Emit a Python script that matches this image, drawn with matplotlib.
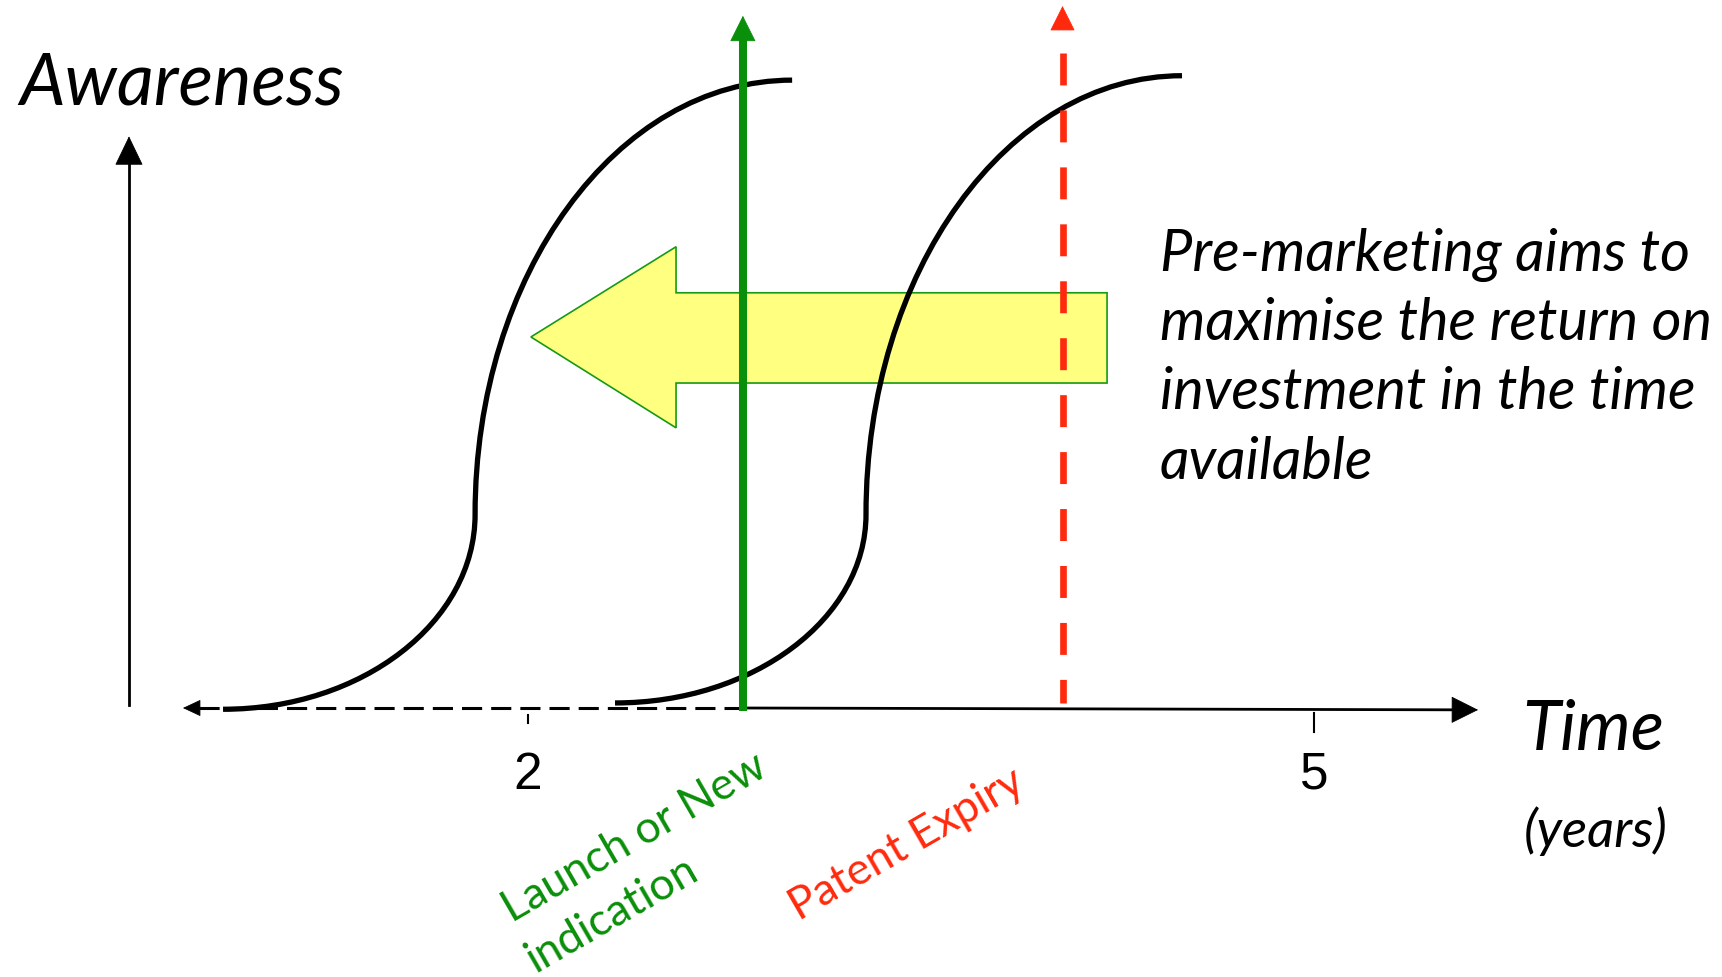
import numpy as np
import matplotlib.pyplot as plt
from matplotlib.path import Path
from matplotlib.patches import PathPatch, Polygon

plt.rcParams['lines.scale_dashes'] = False

# time in years along x, awareness (0 = none, 1 = full) along y
tick_years = [2, 5]
tick_labels = ['2', '5']
tick_spans = [(-0.024, -0.011), (-0.038, -0.008)]

launch_year = 2.82
patent_year = 4.04

# two S-curves: start, knee (steepest point), saturation
curve_start = [(0.836, -0.002), (2.332, 0.008)]
curve_knee = [(1.798, 0.307), (3.290, 0.307)]
curve_end = [(3.008, 0.995), (4.496, 1.002)]

# big yellow arrow pointing back in time
arrow_tip = (2.011, 0.588)
arrow_head_x = 2.565
arrow_tail_x = 4.21
arrow_shaft = (0.515, 0.658)
arrow_head = (0.444, 0.731)

note_lines = ['Pre-marketing aims to', 'maximise the return on',
              'investment in the time', 'available']

green = '#0A8F0A'
red = '#FF2A0D'

fig = plt.figure(figsize=(17.22, 9.77), dpi=100)
ax = fig.add_axes([0, 0, 1, 1])
ax.set_xlim(-0.01527, 6.557)
ax.set_ylim(-0.4263, 1.1220)
ax.axis('off')

PX = 0.72  # pixels -> points at dpi 100


def head(start, tip, length, width, color):
    # arrow head only, drawn between a base point and the tip
    p0 = ax.transData.transform(start)
    p1 = ax.transData.transform(tip)
    u = (p1 - p0) / np.hypot(*(p1 - p0))
    base = ax.transData.inverted().transform(p1 - u * length * 0.9)
    ax.annotate('', xy=tip, xytext=base, zorder=5,
                arrowprops=dict(arrowstyle='-|>,head_length=%.2f,head_width=%.2f'
                                % (length * PX, width / 2 * PX),
                                mutation_scale=1, lw=0.6, color=color,
                                shrinkA=0, shrinkB=0))
    return ax.transData.inverted().transform(p1 - u * length)


# yellow arrow (behind everything)
xs = [arrow_tip[0], arrow_head_x, arrow_head_x, arrow_tail_x, arrow_tail_x,
      arrow_head_x, arrow_head_x]
ys = [arrow_tip[1], arrow_head[1], arrow_shaft[1], arrow_shaft[1],
      arrow_shaft[0], arrow_shaft[0], arrow_head[0]]
ax.add_patch(Polygon(np.column_stack([xs, ys]), closed=True, facecolor='#FFFF80',
                     edgecolor='#169916', lw=1.2, zorder=1))

# y axis
y_tip = (0.477, 0.906)
b = head((0.477, 0.005), y_tip, 27, 26, 'black')
ax.plot([0.477, 0.477], [0.005, b[1]], color='black', lw=2, zorder=2)

# x axis: dashed before launch, solid after
left_tip = (0.683, 0.0)
right_tip = (5.626, -0.003)
b = head((launch_year, 0.0), left_tip, 16, 15, 'black')
ax.plot([b[0], launch_year], [0.0, 0.0], color='black', lw=2.2,
        dashes=(14.5, 6.5), zorder=2)
b = head((launch_year, 0.0), right_tip, 25, 25, 'black')
ax.plot([launch_year, b[0]], [0.0, b[1]], color='black', lw=2, zorder=2)

for x, lab, (y0, y1) in zip(tick_years, tick_labels, tick_spans):
    ax.plot([x, x], [y0, y1], color='black', lw=1.5, zorder=2)
    ax.text(x, -0.128, lab, fontsize=37, family='Liberation Sans',
            ha='center', va='baseline')

# awareness S-curves (two quarter ellipses each)
k = 0.5523
for (x0, y0), (x1, y1), (x2, y2) in zip(curve_start, curve_knee, curve_end):
    verts = [(x0, y0), (x0 + k * (x1 - x0), y0), (x1, y1 - k * (y1 - y0)), (x1, y1),
             (x1, y1 + k * (y2 - y1)), (x2 - k * (x2 - x1), y2), (x2, y2)]
    codes = [Path.MOVETO] + [Path.CURVE4] * 6
    ax.add_patch(PathPatch(Path(verts, codes), facecolor='none', edgecolor='black',
                           lw=3.8, capstyle='butt', zorder=3))

# launch (green, solid) and patent expiry (red, dashed)
b = head((launch_year, -0.005), (launch_year, 1.097), 24, 24, green)
ax.plot([launch_year, launch_year], [-0.005, b[1] + 0.005], color=green, lw=5.8,
        solid_capstyle='butt', zorder=4)
b = head((patent_year, 0.008), (patent_year, 1.1125), 23, 23, red)
ax.plot([patent_year, patent_year], [1.038, 0.008], color=red, lw=4.8,
        dashes=(23, 18), zorder=4)

# labels
ax.text(0.057, 0.957, 'Awareness', fontsize=52, family='Lato', style='italic',
        ha='left', va='baseline')
ax.text(5.794, -0.0666, 'Time', fontsize=50, family='Lato', style='italic',
        ha='left', va='baseline')
ax.text(5.800, -0.220, '(years)', fontsize=38, family='Lato', style='italic',
        ha='left', va='baseline')

for i, line in enumerate(note_lines):
    ax.text(4.412, 0.6925 - 0.1097 * i, line, fontsize=41.5, family='Lato',
            style='italic', ha='left', va='baseline')

ax.text(1.94, -0.341, 'Launch or New', fontsize=32, family='Lato', color=green,
        rotation=30, rotation_mode='anchor', ha='left', va='baseline')
ax.text(2.03, -0.420, 'indication', fontsize=32, family='Lato', color=green,
        rotation=30, rotation_mode='anchor', ha='left', va='baseline')
ax.text(3.034, -0.338, 'Patent Expiry', fontsize=32, family='Lato', color=red,
        rotation=30, rotation_mode='anchor', ha='left', va='baseline')

fig.savefig('out.png', dpi=100)
